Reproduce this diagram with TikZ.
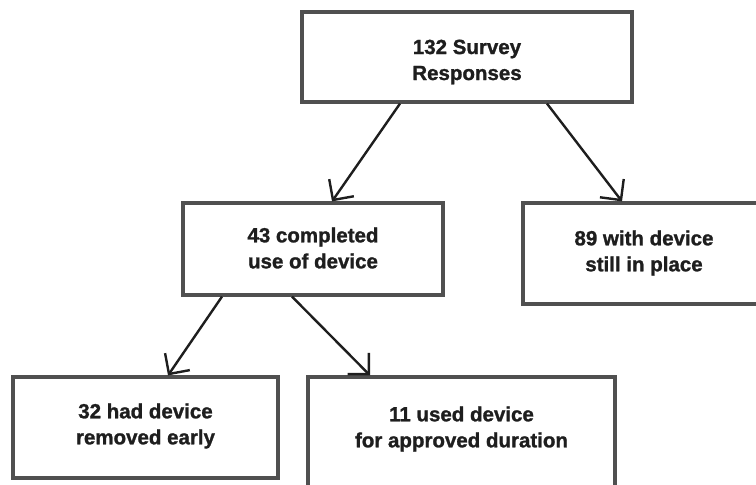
\documentclass[tikz,border=0pt]{standalone}
\usepackage{fontspec}
\setmainfont{Liberation Sans}
\usetikzlibrary{arrows.meta}
\definecolor{boxline}{HTML}{505050}
\definecolor{inkdark}{HTML}{1E1E1E}
\tikzset{
  box/.style={draw=boxline, line width=3.2pt, rectangle, inner sep=0pt, fill=white},
  lbl/.style={align=center, text=inkdark,
    font=\bfseries\addfontfeature{FakeBold=1.2}\fontsize{20.5}{26}\selectfont},
  arr/.style={draw=inkdark, line width=2.4pt,
    -{Straight Barb[length=15pt, width=30pt, line width=2.4pt]}},
}
\begin{document}
\begin{tikzpicture}[x=1pt, y=-1pt]
  \useasboundingbox (0,0) rectangle (756,485);
  \clip (0,0) rectangle (756,485);

  % boxes
  \node[box, minimum width=330pt, minimum height=90pt] (top) at (467,57) {};
  \node[box, minimum width=260pt, minimum height=92pt] (mid) at (313,249) {};
  \node[box, minimum width=242pt, minimum height=101pt] (inplace) at (644,253.5) {};
  \node[box, minimum width=265pt, minimum height=101pt] (early) at (145.5,427.5) {};
  \node[box, minimum width=307pt, minimum height=130pt] (full) at (461.5,442) {};

  % texts
  \node[lbl] (toptxt) at (467,62) {132 Survey\\Responses};
  \node[lbl] (midtxt) at (313,248) {43 completed\\use of device};
  \node[lbl] (inplacetxt) at (644,253) {89 with device\\still in place};
  \node[lbl] (earlytxt) at (145.5,426) {32 had device\\removed early};
  \node[lbl] (fulltxt) at (461.5,429) {11 used device\\for approved duration};

  % connectors
  \draw[arr] ([xshift=-67pt]top.south) -- ([xshift=19pt]mid.north);
  \draw[arr] ([xshift=80pt]top.south) -- ([xshift=-22pt]inplace.north);
  \draw[arr] ([xshift=-91pt]mid.south) -- ([xshift=22.5pt]early.north);
  \draw[arr] ([xshift=-21pt]mid.south) -- ([xshift=-91.5pt]full.north);
\end{tikzpicture}
\end{document}
